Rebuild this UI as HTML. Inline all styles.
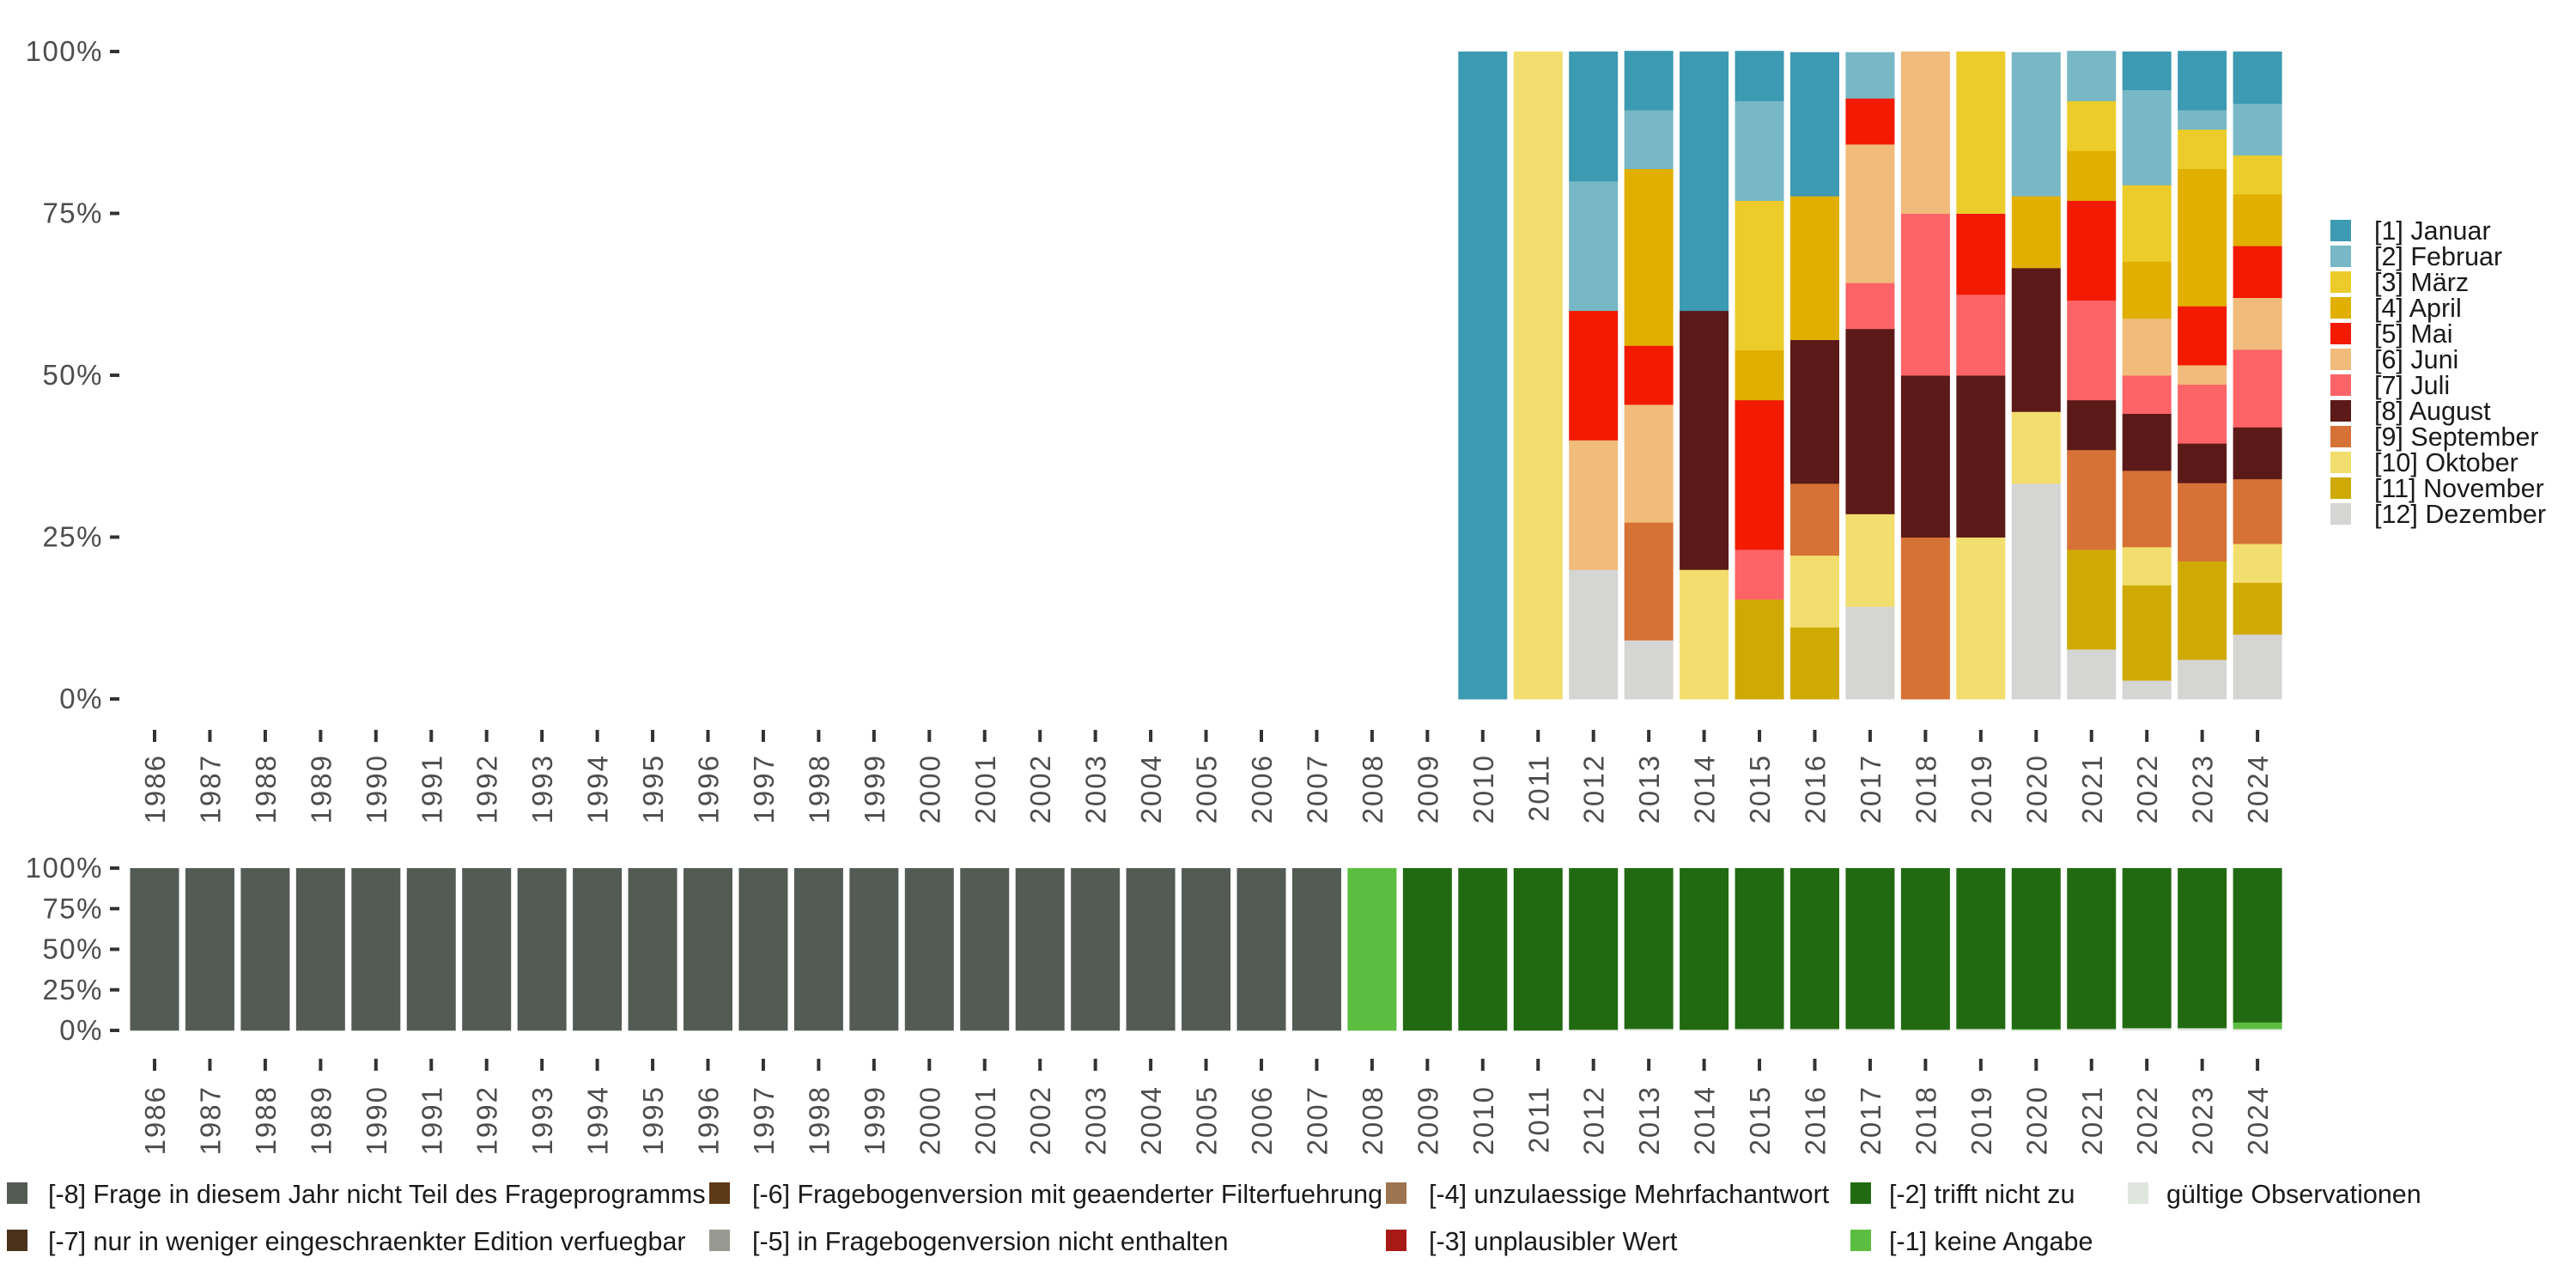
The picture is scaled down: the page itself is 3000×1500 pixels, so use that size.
<!DOCTYPE html>
<html><head><meta charset="utf-8">
<style>
html,body{margin:0;padding:0;background:#fff;}
svg{display:block;font-family:"Liberation Sans",sans-serif;}
</style></head>
<body>
<svg id="chart" width="3000" height="1500" viewBox="0 0 3000 1500" xmlns="http://www.w3.org/2000/svg">
<g id="top"></g>
<g id="bottom"></g>
<g id="legR"></g>
<g id="legB"></g>
</svg>
<script>
const years = [];
for (let y = 1986; y <= 2024; y++) years.push(String(y));
const months = ["[1] Januar","[2] Februar","[3] März","[4] April","[5] Mai","[6] Juni","[7] Juli","[8] August","[9] September","[10] Oktober","[11] November","[12] Dezember"];
const monthColors = ["#3C9AB2","#78B7C5","#EBCC2A","#E1AF00","#F21A00","#F1BB7B","#FD6467","#5B1A18","#D67236","#F2DE6E","#CFAA05","#D5D5D3"];
const monthYears = ["2010","2011","2012","2013","2014","2015","2016","2017","2018","2019","2020","2021","2022","2023","2024"];
const monthShares = [
 [100,0,0,0,0,0,0,0,0,0,0,0],
 [0,0,0,0,0,0,0,0,0,100,0,0],
 [20,20,0,0,20,20,0,0,0,0,0,20],
 [9.1,9.1,0,27.3,9.1,18.2,0,0,18.2,0,0,9.1],
 [40,0,0,0,0,0,0,40,0,20,0,0],
 [7.7,15.4,23.1,7.7,23.1,0,7.7,0,0,0,15.4,0],
 [22.2,0,0,22.2,0,0,0,22.2,11.1,11.1,11.1,0],
 [0,7.1,0,0,7.1,21.4,7.1,28.6,0,14.3,0,14.3],
 [0,0,0,0,0,25,25,25,25,0,0,0],
 [0,0,25,0,12.5,0,12.5,25,0,25,0,0],
 [0,22.2,0,11.1,0,0,0,22.2,0,11.1,0,33.3],
 [0,7.7,7.7,7.7,15.4,0,15.4,7.7,15.4,0,15.4,7.7],
 [5.9,14.7,11.8,8.8,0,8.8,5.9,8.8,11.8,5.9,14.7,2.9],
 [9.1,3.0,6.1,21.2,9.1,3.0,9.1,6.1,12.1,0,15.2,6.1],
 [8,8,6,8,8,8,12,8,10,6,8,10]
];
const missLabels = ["[-8] Frage in diesem Jahr nicht Teil des Frageprogramms","[-7] nur in weniger eingeschraenkter Edition verfuegbar","[-6] Fragebogenversion mit geaenderter Filterfuehrung","[-5] in Fragebogenversion nicht enthalten","[-4] unzulaessige Mehrfachantwort","[-3] unplausibler Wert","[-2] trifft nicht zu","[-1] keine Angabe","gültige Observationen"];
const missColors = ["#545B55","#4A3119","#5C3A17","#989A92","#9C7550","#A81A15","#216A11","#5BBE40","#E0E5E0"];
const miss8 = years.map(y => +y <= 2007 ? 100 : 0);
const missKA = years.map(y => y === "2008" ? 100 : (y === "2024" ? 4 : (y === "2020" ? 0.5 : 0)));
const missValid = years.map(y => ({"2012":0.5,"2013":1,"2014":0.5,"2015":1,"2016":1,"2017":1,"2018":0.5,"2019":1,"2020":0.5,"2021":1,"2022":1.5,"2023":1.5,"2024":1})[y] || 0);
const yTicks = [0,25,50,75,100];

const NS = "http://www.w3.org/2000/svg";
function el(tag, attrs, parent){const e=document.createElementNS(NS,tag);for(const k in attrs)e.setAttribute(k,attrs[k]);parent.appendChild(e);return e;}
const x0 = 180, step = 64.45, bw = 57;
const xPos = i => x0 + i*step;
function axes(g, yTop, yBot, labY, tickY1, tickY2, prefix){
  const yS = v => yBot - (yBot-yTop)*v/100;
  yTicks.forEach(t=>{
    const tx = el("text",{x:120,y:yS(t)+11,"text-anchor":"end","font-size":33,"letter-spacing":1.5,fill:"#4D4D4D"},g);
    tx.textContent = t+"%";
    
    
    const ln = el("line",{x1:128,x2:139,y1:yS(t),y2:yS(t),stroke:"#333","stroke-width":4},g);
    
    
  });
  years.forEach((y,i)=>{
    const ln = el("line",{x1:xPos(i),x2:xPos(i),y1:tickY1,y2:tickY2,stroke:"#333","stroke-width":4},g);
    
    
    const tx = el("text",{x:0,y:0,"text-anchor":"end","font-size":33,"letter-spacing":2,fill:"#4D4D4D",transform:`translate(${xPos(i)+12},${labY}) rotate(-90)`},g);
    tx.textContent = y;
    
    
  });
  return yS;
}
const gT = document.getElementById("top");
const yT = axes(gT, 60, 814, 878, 850, 864, "month-");
monthYears.forEach((yr,k)=>{
  const i = years.indexOf(yr);
  let cum = 0;
  for (let m = 11; m >= 0; m--) {
    const v = monthShares[k][m];
    if (!v) continue;
    const r = el("rect",{x:xPos(i)-bw/2,y:yT(cum+v),width:bw,height:yT(cum)-yT(cum+v)+0.5,fill:monthColors[m]},gT);
    
    
    cum += v;
  }
});
const gB = document.getElementById("bottom");
const yB = axes(gB, 1011, 1200, 1264, 1233, 1247, "missing-");
years.forEach((yr,i)=>{
  const parts = [[missValid[i],8],[missKA[i],7],[miss8[i],0]];
  const rest = 100 - missValid[i] - missKA[i] - miss8[i];
  parts.push([rest,6]);
  let cum = 0;
  parts.forEach(([v,c])=>{
    if (v <= 0) return;
    const r = el("rect",{x:xPos(i)-bw/2,y:yB(cum+v),width:bw,height:yB(cum)-yB(cum+v)+0.3,fill:missColors[c]},gB);
    
    
    cum += v;
  });
});
const gR = document.getElementById("legR");
months.forEach((m,k)=>{
  const r = el("rect",{x:2714,y:256+k*30,width:24,height:25,fill:monthColors[k]},gR);
  
  
  const t = el("text",{x:2765,y:279+k*30,"font-size":30.5,fill:"#1a1a1a"},gR);
  t.textContent = m;
  
  
});
const gL = document.getElementById("legB");
const colSq = [8,826,1614,2155,2478], colTx = [56,876,1664,2200,2523];
const rowsY = [1390,1445];
missLabels.forEach((lab,k)=>{
  const col = Math.floor(k/2), row = k%2;
  const r = el("rect",{x:colSq[col],y:rowsY[row]-13,width:24,height:25,fill:missColors[k]},gL);
  
  
  const t = el("text",{x:colTx[col],y:rowsY[row]+11,"font-size":30.5,fill:"#1a1a1a"},gL);
  t.textContent = lab;
  
  
});
</script>
</body></html>
